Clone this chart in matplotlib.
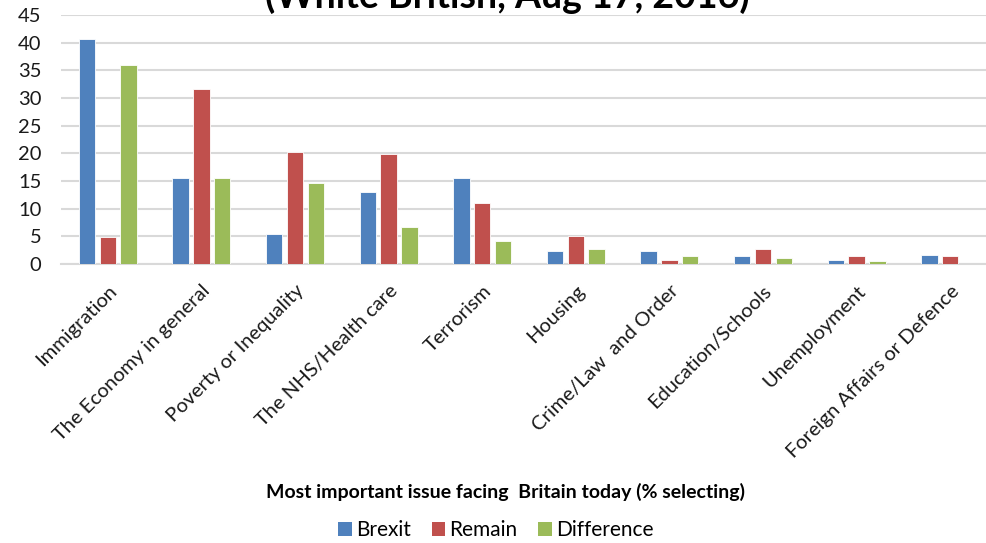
import numpy as np
import matplotlib.pyplot as plt
from matplotlib.patches import Patch

plt.rcParams['font.family'] = ['Lato', 'DejaVu Sans']

# ------------------------------------------------------------------
# Survey data: most important issue facing Britain (% selecting)
# ------------------------------------------------------------------
issues = [
    "Immigration", "The Economy in general", "Poverty or Inequality",
    "The NHS/Health care", "Terrorism", "Housing", "Crime/Law  and Order",
    "Education/Schools", "Unemployment", "Foreign Affairs or Defence",
]
brexit     = [40.7, 15.5, 5.4, 13.0, 15.5, 2.35, 2.35, 1.4, 0.7, 1.7]
remain     = [4.8, 31.6, 20.2, 19.9, 11.1, 5.1, 0.7, 2.65, 1.4, 1.4]
difference = [35.9, 15.5, 14.6, 6.7, 4.2, 2.65, 1.4, 1.0, 0.5, 0.0]

series = [("Brexit", brexit, "#4F81BD"),
          ("Remain", remain, "#C0504D"),
          ("Difference", difference, "#9BBB59")]

fig = plt.figure(figsize=(9.86, 5.43), dpi=100)
ax = fig.add_axes([61 / 986, 1 - 264 / 543, 936 / 986, 249 / 543])

x = np.arange(len(issues))
width = 0.175
step = 0.222
for i, (name, vals, color) in enumerate(series):
    ax.bar(x + (i - 1) * step, vals, width=width, color=color,
           edgecolor='white', linewidth=0.6, zorder=3)

ax.set_xlim(-0.5, len(issues) - 0.5)
ax.set_ylim(0, 45)
ax.set_yticks(range(0, 46, 5))
ax.grid(axis='y', color='#D9D9D9', linewidth=1.5, zorder=0)
for s in ['top', 'right', 'left']:
    ax.spines[s].set_visible(False)
ax.spines['bottom'].set_color('#D9D9D9')
ax.spines['bottom'].set_linewidth(1.5)
ax.tick_params(axis='y', length=0, pad=14, labelsize=14.5, labelcolor='#1a1a1a')
ax.tick_params(axis='x', length=0, pad=13)
ax.set_xticks(x)
ax.set_xticklabels(issues, rotation=45, ha='right', rotation_mode='anchor',
                   fontsize=14.5, color='#1a1a1a')

# chart title, clipped by the top edge of the figure
fig.text(507 / 986, 1 - 8 / 543, "(White British, Aug 17, 2016)",
         ha='center', va='baseline', fontsize=27, fontweight='bold')
fig.text(505 / 986, 1 - 492 / 543,
         "Most important issue facing  Britain today (% selecting)",
         ha='center', va='center', fontsize=14, fontweight='bold')

handles = [Patch(facecolor=c, label=n) for n, _, c in series]
fig.legend(handles=handles, loc='center', bbox_to_anchor=(496 / 986, 1 - 530 / 543),
           ncol=3, frameon=False, fontsize=15, handlelength=0.65, handleheight=0.65,
           handletextpad=0.2, columnspacing=1.0)

fig.savefig('out.png', dpi=100)
